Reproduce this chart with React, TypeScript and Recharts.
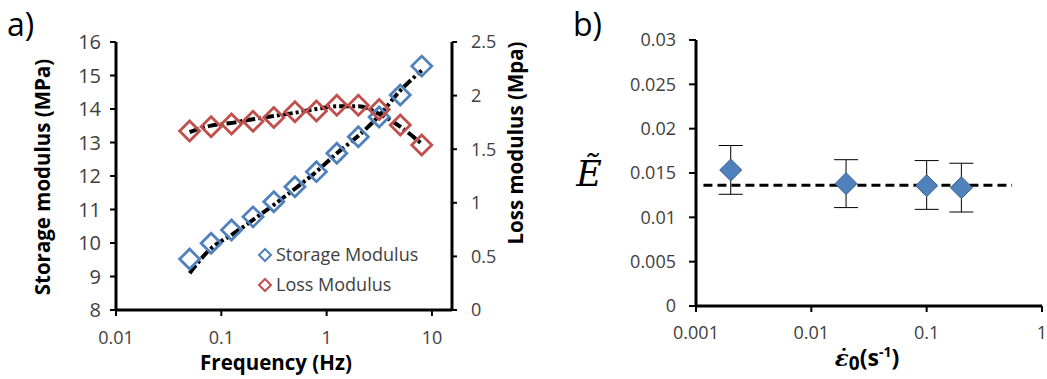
import React from "react";
import { ComposedChart, Scatter, Line, XAxis, YAxis, ErrorBar } from "recharts";

// panel a) frequency sweep
const frequency = [0.05, 0.08, 0.125, 0.2, 0.315, 0.5, 0.8, 1.25, 2, 3.15, 5, 8];
const storageModulus = [9.52, 9.99, 10.39, 10.78, 11.23, 11.68, 12.13, 12.68, 13.17, 13.76, 14.42, 15.28];
const lossModulus = [1.67, 1.71, 1.735, 1.76, 1.795, 1.85, 1.856, 1.91, 1.91, 1.87, 1.726, 1.54];
const storageFit = [9.1, 9.84, 10.24, 10.69, 11.14, 11.62, 12.13, 12.68, 13.2, 13.8, 14.55, 15.15];
const lossFit = [1.66, 1.72, 1.745, 1.78, 1.81, 1.84, 1.875, 1.9, 1.9, 1.83, 1.71, 1.55];
const freqTicks = [0.01, 0.1, 1, 10];
const storageTicks = [8, 9, 10, 11, 12, 13, 14, 15, 16];
const lossTicks = [0, 0.5, 1, 1.5, 2, 2.5];
const legendNames = ["Storage Modulus", "Loss Modulus"];

// panel b) normalised modulus vs strain rate
const strainRate = [0.002, 0.02, 0.1, 0.2];
const eTilde = [0.01534, 0.0138, 0.01357, 0.01334];
const eUpper = [0.0181, 0.0165, 0.0164, 0.0161];
const eLower = [0.0126, 0.0111, 0.0109, 0.0106];
const fitRate = [0.00116, 0.55];
const fitE = [0.01361, 0.01361];
const rateTicks = [0.001, 0.01, 0.1, 1];
const eTicks = [0, 0.005, 0.01, 0.015, 0.02, 0.025, 0.03];

const BLUE = "#4F81BD";
const RED = "#C0504D";
const FONT = "'Open Sans', Lato, sans-serif";
const tickStyle = { fill: "#404040", fontSize: 18, fontFamily: FONT };
const bigTickStyle = { fill: "#404040", fontSize: 20, fontFamily: FONT };
const axisLine = { stroke: "#000", strokeWidth: 3 };
const tickLine = { stroke: "#000", strokeWidth: 2 };

const Diamond = (props: any) => {
  const { cx, cy, r, fill, stroke, sw } = props;
  if (cx == null || cy == null) return null;
  return (
    <path
      d={`M${cx},${cy - r}L${cx + r},${cy}L${cx},${cy + r}L${cx - r},${cy}Z`}
      fill={fill}
      stroke={stroke}
      strokeWidth={sw}
    />
  );
};

const storagePts = frequency.map((f, i) => ({ f, v: storageModulus[i] }));
const lossPts = frequency.map((f, i) => ({ f, v: lossModulus[i] }));
const storageFitPts = frequency.map((f, i) => ({ f, v: storageFit[i] }));
const lossFitPts = frequency.map((f, i) => ({ f, v: lossFit[i] }));

const ratePts = strainRate.map((x, i) => ({
  x,
  e: eTilde[i],
  err: [eTilde[i] - eLower[i], eUpper[i] - eTilde[i]],
}));
const fitPts = fitRate.map((x, i) => ({ x, e: fitE[i] }));

const PanelA = () => (
  <ComposedChart width={540} height={379} margin={{ top: 42, right: 28, bottom: 29, left: 56 }}>
    <XAxis
      dataKey="f"
      type="number"
      scale="log"
      domain={[0.01, 15.5]}
      allowDataOverflow
      ticks={freqTicks}
      interval={0}
      tickFormatter={(v) => String(v)}
      height={40}
      axisLine={axisLine}
      tickLine={tickLine}
      tickSize={6}
      tickMargin={15}
      tick={tickStyle}
    />
    <YAxis
      yAxisId="left"
      type="number"
      domain={[8, 16]}
      ticks={storageTicks}
      interval={0}
      width={60}
      axisLine={axisLine}
      tickLine={tickLine}
      tickSize={6}
      tickMargin={9}
      tick={bigTickStyle}
    />
    <YAxis
      yAxisId="right"
      orientation="right"
      type="number"
      domain={[0, 2.5]}
      ticks={lossTicks}
      interval={0}
      width={60}
      axisLine={axisLine}
      tickLine={tickLine}
      tickSize={5}
      tickMargin={14}
      tick={tickStyle}
    />
    <Scatter
      yAxisId="left"
      data={storagePts}
      dataKey="v"
      isAnimationActive={false}
      shape={(p: any) => <Diamond {...p} r={10} fill="none" stroke={BLUE} sw={2.8} />}
    />
    <Scatter
      yAxisId="right"
      data={lossPts}
      dataKey="v"
      isAnimationActive={false}
      shape={(p: any) => <Diamond {...p} r={10} fill="none" stroke={RED} sw={2.8} />}
    />
    <Line
      yAxisId="left"
      data={storageFitPts}
      dataKey="v"
      type="monotone"
      stroke="#000"
      strokeWidth={4}
      strokeDasharray="10 3 3 3"
      dot={false}
      activeDot={false}
      isAnimationActive={false}
    />
    <Line
      yAxisId="right"
      data={lossFitPts}
      dataKey="v"
      type="monotone"
      stroke="#000"
      strokeWidth={4}
      strokeDasharray="10 3 3 3"
      dot={false}
      activeDot={false}
      isAnimationActive={false}
    />
    {legendNames.map((name, i) => (
      <g key={name}>
        <Diamond cx={265} cy={255 + i * 30} r={6} fill="none" stroke={i === 0 ? BLUE : RED} sw={2} />
        <text x={276} y={261 + i * 30} fontSize={18} fontFamily={FONT} fill="#404040">
          {name}
        </text>
      </g>
    ))}
    <text x={7} y={36} fontSize={32} fontFamily={FONT} fill="#000">
      a)
    </text>
    <text
      transform="translate(42,177) rotate(-90)"
      textAnchor="middle"
      dominantBaseline="central"
      fontSize={20.5}
      fontWeight="bold"
      fontFamily={FONT}
      fill="#000"
    >
      Storage modulus (MPa)
    </text>
    <text
      transform="translate(515,143) rotate(-90)"
      textAnchor="middle"
      dominantBaseline="central"
      fontSize={20.5}
      fontWeight="bold"
      fontFamily={FONT}
      fill="#000"
    >
      Loss modulus (Mpa)
    </text>
    <text x={276} y={370} textAnchor="middle" fontSize={20.5} fontWeight="bold" fontFamily={FONT} fill="#000">
      Frequency (Hz)
    </text>
  </ComposedChart>
);

const PanelB = () => (
  <ComposedChart width={487} height={379} margin={{ top: 40, right: 5, bottom: 33, left: 66 }}>
    <XAxis
      dataKey="x"
      type="number"
      scale="log"
      domain={[0.001, 1]}
      allowDataOverflow
      ticks={rateTicks}
      interval={0}
      tickFormatter={(v) => String(v)}
      height={40}
      axisLine={axisLine}
      tickLine={tickLine}
      tickSize={6}
      tickMargin={14}
      tick={tickStyle}
    />
    <YAxis
      type="number"
      domain={[0, 0.03]}
      ticks={eTicks}
      interval={0}
      width={70}
      axisLine={axisLine}
      tickLine={tickLine}
      tickSize={7}
      tickMargin={13}
      tick={tickStyle}
    />
    <Scatter
      data={ratePts}
      dataKey="e"
      isAnimationActive={false}
      shape={(p: any) => <Diamond {...p} r={11} fill={BLUE} stroke="#3A5F8C" sw={1} />}
    >
      <ErrorBar dataKey="err" direction="y" width={12} stroke="#000" strokeWidth={1} />
    </Scatter>
    <Line
      data={fitPts}
      dataKey="e"
      type="linear"
      stroke="#000"
      strokeWidth={3}
      strokeDasharray="9 5"
      dot={false}
      activeDot={false}
      isAnimationActive={false}
    />
    <text x={13} y={36} fontSize={32} fontFamily={FONT} fill="#000">
      b)
    </text>
    <text x={29} y={186} textAnchor="middle" fontSize={35} fontStyle="italic" fontFamily="'DejaVu Serif', serif" fill="#000">
      Ẽ
    </text>
    <text x={307} y={366} textAnchor="middle" fontSize={23} fontWeight="bold" fontFamily={FONT} fill="#000">
      <tspan fontStyle="italic" fontFamily="'DejaVu Serif', serif">ε̇</tspan>
      <tspan dy={4} fontSize={19}>0</tspan>
      <tspan dy={-4}>(s</tspan>
      <tspan dy={-9} fontSize={14}>-1</tspan>
      <tspan dy={9}>)</tspan>
    </text>
  </ComposedChart>
);

export default function App() {
  return (
    <div style={{ position: "absolute", left: 0, top: 0, width: 1047, height: 379, background: "#fff" }}>
      <div style={{ position: "absolute", left: 0, top: 0 }}>
        <PanelA />
      </div>
      <div style={{ position: "absolute", left: 560, top: 0 }}>
        <PanelB />
      </div>
    </div>
  );
}
